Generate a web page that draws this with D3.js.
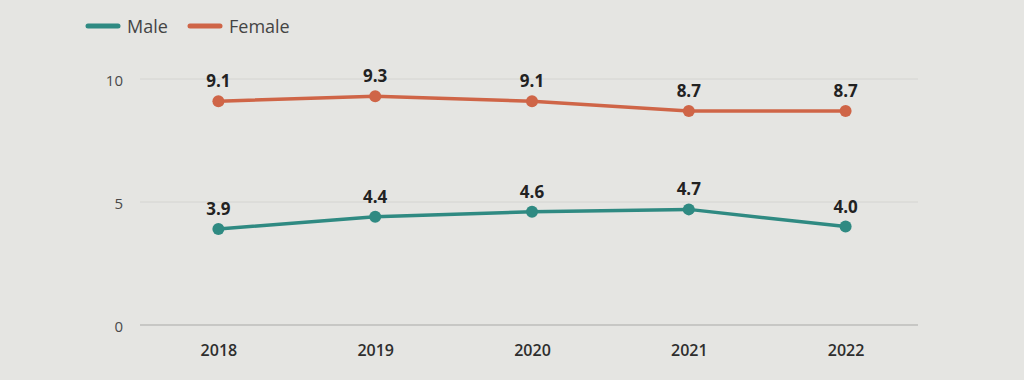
<!DOCTYPE html>
<html><head><meta charset="utf-8">
<script src="https://cdn.jsdelivr.net/npm/d3@7"></script>
<style>
html,body{margin:0;padding:0;background:#e5e5e2;}
svg{display:block;font-family:"Open Sans","Noto Sans",sans-serif;}
</style></head>
<body><svg id="c" width="1024" height="380"></svg>
<script>
const years = ["2018","2019","2020","2021","2022"];
const male = [3.9, 4.4, 4.6, 4.7, 4.0];
const female = [9.1, 9.3, 9.1, 8.7, 8.7];
const yTicks = [0, 5, 10];
const seriesNames = ["Male","Female"];
const colors = ["#2f8a82","#cf6547"];

const svg = d3.select("#c");
const x = d3.scalePoint().domain(years).range([140,924]).padding(0.5);
const y = d3.scaleLinear().domain([0,10]).range([325,79]);

svg.append("g").selectAll("line").data(yTicks).join("line")
  .attr("x1",140).attr("x2",918)
  .attr("y1",d=>y(d)).attr("y2",d=>y(d))
  .attr("stroke",d=>d===0?"#a9a9a7":"#d4d4d1").attr("stroke-width",1);

svg.append("g").selectAll("text").data(yTicks).join("text")
  .attr("x",123).attr("y",d=>y(d)+2).attr("dy","0.35em")
  .attr("text-anchor","end").attr("font-size",15).attr("fill","#4a4a4a")
  .text(d=>d);

const xa = svg.append("g").attr("transform","translate(0,325)")
  .call(d3.axisBottom(x).tickSize(0).tickPadding(20));
xa.select(".domain").remove();
xa.selectAll("text").attr("font-size",16).attr("font-weight",600).attr("fill","#2e2e2e")
  .attr("font-family","'Open Sans','Noto Sans',sans-serif");

const data = [male, female];
const line = d3.line().x((d,i)=>x(years[i])).y(d=>y(d));
data.forEach((vals,si)=>{
  const g = svg.append("g");
  g.append("path").datum(vals).attr("d",line).attr("fill","none")
    .attr("stroke",colors[si]).attr("stroke-width",3.5);
  g.selectAll("circle").data(vals).join("circle")
    .attr("cx",(d,i)=>x(years[i])).attr("cy",d=>y(d)).attr("r",6)
    .attr("fill",colors[si]);
  g.selectAll("text").data(vals).join("text")
    .attr("x",(d,i)=>x(years[i])).attr("y",d=>y(d)-14)
    .attr("text-anchor","middle").attr("font-size",17).attr("font-weight",700)
    .attr("fill","#222").text(d=>d.toFixed(1));
});

const lg = svg.append("g");
const lx = [88,190];
seriesNames.forEach((n,i)=>{
  lg.append("line").attr("x1",lx[i]).attr("x2",lx[i]+30).attr("y1",26).attr("y2",26)
    .attr("stroke",colors[i]).attr("stroke-width",5).attr("stroke-linecap","round");
  lg.append("text").attr("x",lx[i]+39).attr("y",27).attr("dy","0.35em")
    .attr("font-size",18).attr("fill","#444").text(n);
});
</script></body></html>
